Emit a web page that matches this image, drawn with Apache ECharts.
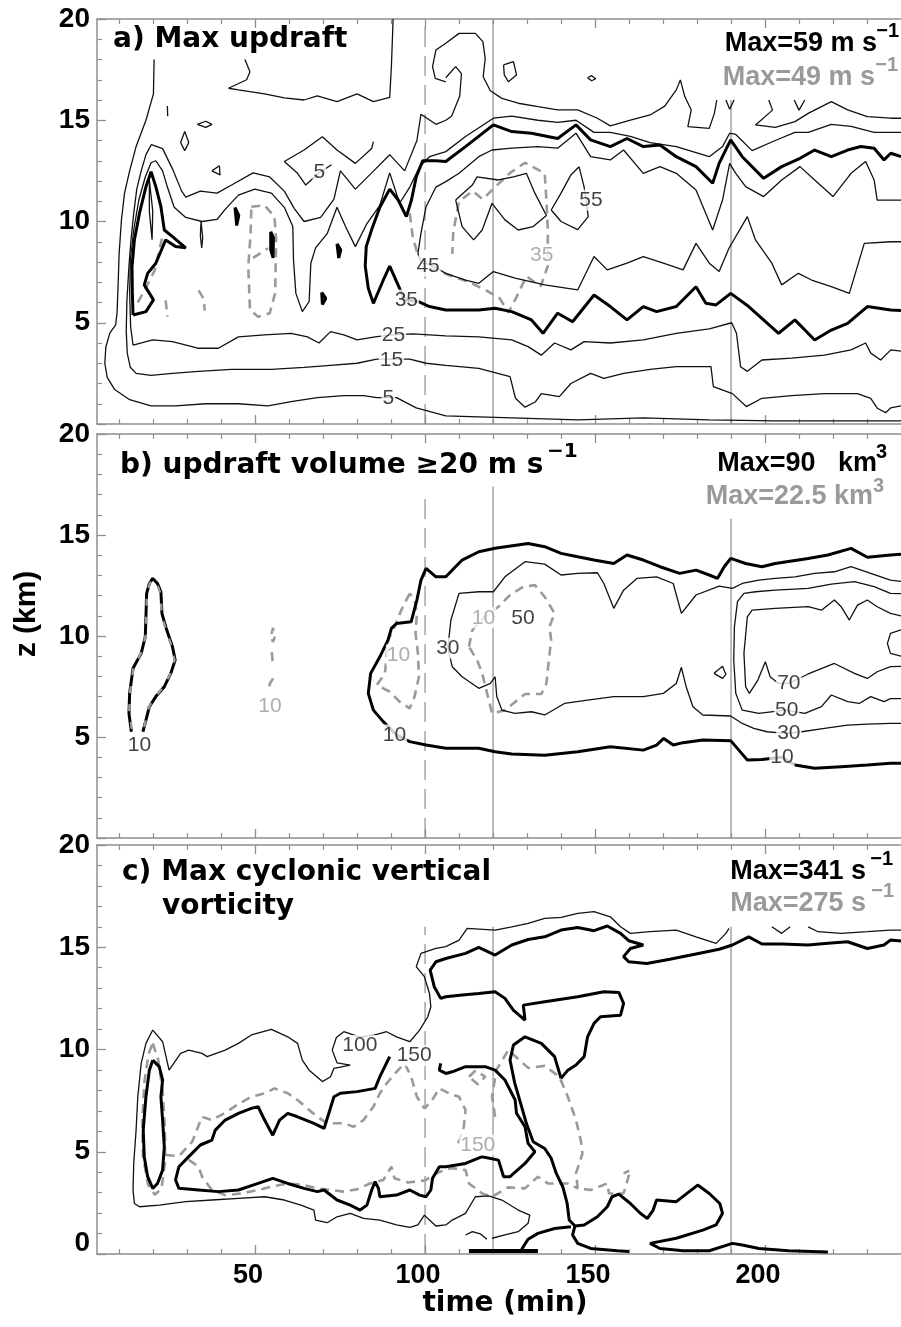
<!DOCTYPE html>
<html><head><meta charset="utf-8">
<script src="https://cdn.jsdelivr.net/npm/echarts@6.0.0/dist/echarts.min.js"></script>
<style>html,body{margin:0;padding:0;background:#fff}#c{width:901px;height:1327px}</style>
</head><body><div id="c"></div>
<script>
// ---------- axis values ----------
const timeMajor = [50, 100, 150, 200];
const timeMinor = [10, 20, 30, 40, 60, 70, 80, 90, 110, 120, 130, 140, 160, 170, 180, 190, 210, 220, 230];
const timeRange = [3.5, 240];
const heightRange = [0, 20];
const refTimes = [100, 120, 190];
const refTopA = [20, 20, 16.0];
const refTopB = [17.1, 17.4, 15.8];
const refTopC = [16, 16, 16];

// ---------- panel a: max updraft contours [time (min), z (km)] ----------
const aW5 = [[20.3,18.0],[20.1,16.3],[17.9,15.0],[15.0,13.7],[13.1,12.5],[11.6,11.4],[10.7,10.1],[10.0,8.4],[9.7,6.8],[9.4,5.5],[9.0,4.9],[7.3,4.5],[6.1,3.8],[5.8,3.0],[6.5,2.3],[8.7,1.7],[13.1,1.2],[19.4,0.9],[26.6,0.9],[35.4,1.0],[45.1,1.0],[53.8,0.9],[60.6,1.1],[68.3,1.3],[76.1,1.4],[81.9,1.4],[85.8,1.3],[91.6,1.3],[97.4,0.8],[106.1,0.4],[125.5,0.3],[144.9,0.2],[164.2,0.3],[183.6,0.2],[203,0.15],[222.4,0.15],[240,0.15]];
const aW15 = [[106.1,17.1],[109,17.65],[110.7,17.3],[110.2,16.2],[107.8,15.2],[106.1,15.0],[103.2,14.8],[98.8,15.3],[97.6,14.0],[94,12.5],[89.6,13.3],[84.3,12.4],[79.5,11.6],[75.1,12.5],[73.2,11.1],[69.3,10.2],[64.4,10.0],[61.5,10.65],[58.6,11.5],[54.3,12.2],[49.4,12.4],[43.1,11.8],[38.8,11.4],[33.9,11.5],[29.6,11.2],[28.4,11.5],[25.7,12.6],[22.8,13.6],[19.5,13.8],[17.9,13.3],[16.5,12.5],[15.2,11.6],[14.3,10.4],[13.5,9.1],[12.9,7.8],[12.3,6.1],[12.1,4.6],[12.4,3.5],[13.3,2.8],[15.0,2.5],[19.4,2.4],[25.7,2.5],[33.4,2.6],[43.1,2.7],[54.8,2.7],[64.4,2.8],[72.2,2.9],[80,3.0],[85.8,3.2],[90.6,3.2],[95.5,3.2],[100.3,3.0],[106.1,2.9],[115.8,2.75],[125,2.34],[126.6,1.27],[129.4,0.83],[132.5,1.1],[134.2,1.5],[139.5,1.35],[142.9,2.0],[148.7,2.5],[152.6,2.25],[158.4,2.5],[166.2,2.7],[173.9,2.83],[184.1,2.83],[184.8,1.85],[190.4,1.5],[194.5,0.86],[199.1,1.27],[207.8,1.4],[217.5,1.5],[227.2,1.5],[231.1,1.27],[233.0,0.78],[235.5,0.56],[237,0.8],[240,0.9]];
const aW25 = [[240,3.6],[237,3.66],[234,3.16],[231.1,3.5],[229.6,4.0],[225.3,3.66],[217.5,3.4],[207.8,3.25],[199.1,3.16],[194.8,2.6],[192.8,2.83],[191.6,4.48],[190.2,5.0],[183.6,4.7],[173.9,4.48],[164.2,4.15],[154.5,4.0],[146.8,4.07],[142.9,3.66],[138.1,4.0],[134.2,3.4],[130.3,3.82],[125.5,4.15],[115.8,4.3],[106.1,4.35],[101.3,4.4],[96.4,4.45],[90.6,4.4],[85.8,4.31],[80,4.15],[76.1,4.4],[72.2,4.56],[68.8,4.0],[65.4,4.3],[60.6,4.48],[52.8,4.4],[45.1,4.3],[39.2,3.74],[33.4,3.74],[25.7,4.07],[19.9,4.15],[14.1,3.9],[13.4,4.8],[13.1,6.45],[13.3,8.1],[14.3,9.58],[15.8,11.06],[17.7,12.2],[19.4,12.9],[20.8,13.0],[22.8,12.5],[24.2,11.7],[26.2,10.7],[29.6,10.2],[34.4,10.0],[38.8,10.1],[41.2,10.6],[45.1,11.3],[49.9,11.6],[54.8,11.4],[58.6,10.7],[61.1,9.75],[61.3,8.1],[62,6.45],[63.9,5.55],[65.9,6.05],[66.4,7.94],[67.8,8.7],[71.2,9.4],[74.1,10.7],[76.6,9.75],[79.5,8.76],[82.9,9.9],[86.7,10.8],[89.6,12.4],[92.5,10.9],[95.5,11.7],[98.4,12.7],[101.3,13.2],[106.1,13.45],[111.9,14.2],[120.1,15.1],[125.5,15.2],[133.2,15.0],[139,14.9],[144.4,15.0],[149.7,14.4],[154.5,14.4],[160.4,14.2],[166.2,13.9],[173.9,13.7],[183.6,13.2],[187.5,13.7],[189.6,14.36],[191.4,14.3],[196.2,13.5],[203,14.0],[208.8,14.4],[212.7,14.4],[219.5,14.8],[225.3,14.7],[232.1,14.4],[240,14.4]];
const aW35 = [[240,5.6],[237,5.63],[230.1,5.8],[224.3,4.97],[219.5,4.64],[214.6,4.15],[208.8,5.14],[204,4.48],[195.2,5.8],[189.9,6.45],[185.6,5.88],[182.6,5.96],[179.7,6.78],[173.9,5.8],[168.1,5.55],[164.2,5.8],[159.4,5.14],[154.5,5.8],[149.7,6.37],[143.4,5.05],[139,5.47],[134.7,4.48],[131.3,5.14],[125.5,5.55],[120.6,5.72],[115.8,5.63],[106.1,5.63],[101.3,5.8],[97.9,6.05],[94,6.13],[89.6,7.8],[87.7,7.1],[84.8,5.96],[83.3,6.7],[82.4,7.8],[82.7,8.76],[84.3,9.6],[86.7,10.7],[89.6,11.6],[92.1,11.06],[94.5,10.24],[96,11.06],[97.4,12.2],[99.3,13.0],[103.2,13.0],[106.1,12.96],[111.9,13.7],[120.1,14.77],[125.5,14.44],[131.3,14.36],[139,14.1],[144.4,14.77],[148.7,14.03],[154.5,13.7],[159.4,14.1],[164.2,13.7],[169.1,13.78],[173.9,13.2],[179.7,12.71],[184.6,11.89],[186.5,12.87],[189.9,14.03],[193.3,13.2],[199.6,12.13],[204.9,12.71],[210.3,13.12],[214.6,13.53],[219.5,13.2],[224.3,13.53],[228.2,13.7],[232.1,13.62],[235,13.04],[237,13.37],[240,13.2]];
const aW45 = [[240,11.06],[233,11.06],[232.1,12.05],[229.6,12.96],[225.3,12.38],[220,11.23],[214.6,12.05],[210.3,12.71],[204.9,12.05],[199.6,11.23],[194.3,11.72],[191.4,12.38],[189.6,12.87],[187.5,11.06],[184.6,9.58],[179.7,11.56],[173.9,12.38],[169.1,12.71],[164.2,12.38],[158.4,13.53],[154.5,13.04],[148.7,13.2],[144.4,14.36],[139,13.62],[133.2,13.7],[125.5,13.62],[119.7,13.53],[115.8,13.2],[110,12.38],[106.1,11.97],[103.2,11.7],[100.3,10.73],[98.8,9.42],[97.9,8.43],[98.8,7.94],[101.3,7.9],[106.1,7.44],[111.9,7.11],[115.8,6.95],[120.1,7.53],[126.5,7.2],[135.2,6.87],[144.9,6.62],[149.7,8.27],[153.6,7.61],[159.4,7.94],[164.2,8.27],[170.1,7.94],[175.9,7.61],[179.7,8.92],[183.6,7.94],[186.5,7.53],[189.4,8.68],[194.8,10.24],[197.2,9.09],[202,7.94],[204.9,6.87],[209.8,7.44],[213.7,7.11],[219.5,6.78],[224.8,6.45],[229.2,8.92],[237,9.0],[240,9.0]];
const aW55a = [[137.1,10.57],[140,11.4],[142.9,12.3],[145.3,12.7],[146.8,11.7],[148,10.24],[144.9,9.6],[140,10.0],[137.1,10.57]];
const aW55b = [[109,11.06],[113.9,11.8],[115.3,12.2],[121.6,12.05],[126,12.2],[129.8,12.38],[132.3,11.4],[135.7,10.3],[131.8,9.75],[127.4,9.58],[123.5,10.08],[119.7,10.9],[116.8,9.58],[114.3,9.09],[110.9,9.75],[109,11.06]];
const aWtop1 = [[106.1,16.9],[103,17.07],[102.2,17.65],[103.2,18.47],[106.1,18.8],[110,19.29],[114.8,19.29],[117,18.88],[117.7,18.06],[117.1,17.15],[119.2,16.46],[122.6,16.08],[127.4,15.84],[133.2,15.67],[139,15.51],[144.9,15.51],[150.7,15.1],[154.5,14.72],[160.4,15.01],[166.2,15.26],[170.5,15.7],[173.9,16.5],[175.1,16.99],[176.4,16.17],[178.3,15.51],[177.3,14.69],[183.6,14.6],[185.1,15.34],[185.8,16.0]];
const aWtop2 = [[201.1,16.0],[202.2,15.5],[197.2,14.77],[203,14.65],[208.8,14.93],[212.7,15.34],[219.5,15.92],[224.3,15.51],[230.1,15.18],[237,15.1],[240,15.1]];
const aWvee1 = [[188.5,16.0],[189.6,15.54],[190.9,16.0]];
const aWvee2 = [[208.6,16],[210,15.5],[211.7,16]];
const aWloop1 = [[123.1,17.73],[126,17.9],[126.9,17.24],[124.5,16.9],[123.3,17.24],[123.1,17.73]];
const aWloop2 = [[147.8,17.1],[149,17.2],[150.2,17.05],[149,16.95],[147.8,17.1]];
const aWtopRegion = [[47,18.0],[48.5,17.4],[47.5,17.0],[42.2,16.58],[45.1,16.5],[52.8,16.3],[58.6,16.1],[64.4,16.0],[68.3,16.2],[74.1,15.92],[80,16.3],[84.8,15.92],[89.6,16.13],[90.1,17.65],[90.6,20]];
const aWmid5 = [[84.8,13.94],[84.3,13.6],[79.5,12.87],[74.1,13.53],[69.8,14.19],[64.4,13.53],[58.6,12.96],[62.5,12.38],[64.9,11.8],[68.8,12.4],[72.5,12.8]];
const aWisle1 = [[29.3,14.44],[30.5,13.9],[29.3,13.5],[28.1,13.9],[29.3,14.44]];
const aWisle2 = [[33,14.8],[35.5,14.95],[37.3,14.8],[35.5,14.65],[33,14.8]];
const aWisle3 = [[37.3,12.5],[39.7,12.3],[39.5,12.75],[37.3,12.5]];
const aWisle4 = [[24.2,15.7],[24.3,15.2]];
const aWisle5 = [[18.9,12.05],[19.9,10.5],[19.7,9.1],[18.9,10.5],[18.9,12.05]];
const aWisle6 = [[34.1,10.0],[34.6,9.2],[34.3,8.7],[33.9,9.3],[34.1,10.0]];
const aTcell = [[14.1,5.38],[17.9,5.55],[20.1,6.13],[17.4,6.87],[18.4,7.44],[20.8,7.94],[23.7,9.09],[26.6,8.76],[29.6,8.7],[25.7,9.25],[23.3,9.58],[22.3,10.73],[20.8,11.72],[19.4,12.46],[17.9,11.72],[16,10.41],[14.5,9.09],[13.8,7.77],[13.9,6.45],[14.1,5.38]];
const aTdot1 = [[44.1,10.7],[45.2,10.3],[44.6,9.8],[44.1,10.7]];
const aTdot2 = [[54.6,9.5],[55.4,9.2],[55.3,8.2],[54.6,8.6],[54.6,9.5]];
const aTdot3 = [[74.1,8.9],[75.2,8.6],[74.6,8.2],[74.1,8.9]];
const aTdot4 = [[69.6,6.5],[70.8,6.2],[69.8,5.9],[69.6,6.5]];
const aG1 = [[48.9,10.73],[52.8,10.8],[55.7,10.24],[56.2,9.09],[55.9,6.45],[54.3,5.47],[50.9,5.3],[48.5,5.63],[48,7.77],[48.7,9.42],[48.9,10.73]];
const aG2 = [[49.4,8.2],[53.8,8.68]];
const aG3 = [[23.7,6.1],[24.2,5.3]];
const aG4 = [[33.4,6.6],[34.8,6.2],[35.2,5.6]];
const aG5 = [[15.5,6.0],[17.5,6.6],[20.5,7.6],[22.8,9.3]];
const aG6 = [[95.5,10.4],[96.4,9.2],[98,8.3],[103,7.6],[108,7.3],[113,7.0],[118,6.6],[122,6.2],[124.5,5.5],[127,6.3],[129.8,7.3],[134,6.8],[136.1,7.8],[136.1,9.58],[135.7,11.06],[135.2,12.38],[129.4,12.9],[125,12.4],[120.6,11.7],[117,11.1],[114,11.5],[110,11.0],[108.3,9.5],[108,8.4]];
const aLabels = [[89.2,1.28,'5'],[90.1,3.16,'15'],[90.7,4.4,'25'],[94.5,6.12,'35'],[100.9,7.8,'45'],[148.8,11.06,'55'],[68.9,12.44,'5']];
const aGreyLabels = [[134.3,8.35,'35']];

// ---------- panel b: updraft volume contours ----------
const bW10left = [[13.6,5.26],[12.9,6.17],[13.1,7.16],[14.1,8.4],[16.5,9.14],[17.7,9.96],[17.9,10.95],[18.1,12.11],[18.9,12.6],[19.9,12.85],[21.3,12.6],[22.3,12.19],[22.6,11.12],[23.7,10.46],[25.7,9.47],[26.5,8.81],[25.2,8.15],[23.3,7.49],[20.8,7.0],[18.9,6.5],[17.9,5.84],[17,5.26]];
const bG10left = [[13.7,5.4],[13.0,6.3],[13.2,7.2],[14.2,8.4],[16.6,9.2],[17.8,10.0],[18.0,11.0],[18.2,12.1],[19.0,12.6],[19.9,12.8],[21.3,12.5],[22.2,12.1],[22.5,11.1],[23.6,10.4],[25.6,9.4],[26.3,8.8],[25.0,8.1],[23.1,7.5],[20.7,7.0],[18.8,6.5],[17.8,5.8],[17.1,5.3]];
const bGdot1 = [[54.8,10.1],[55.3,10.4],[55.7,9.9],[55.2,9.7],[54.8,10.1]];
const bGdot2 = [[54.9,9.2],[55.3,8.5]];
const bGdot3 = [[55.3,7.9],[54.2,7.6],[55.3,7.3]];
const bW10 = [[240,14.05],[236.9,14.01],[230.1,13.9],[225.3,14.34],[218.5,14.01],[212.7,13.84],[203,13.59],[199.1,13.43],[194.3,13.59],[189.9,13.84],[188,13.43],[186,12.85],[183.6,13.02],[179.7,13.26],[174.9,13.1],[169.1,13.43],[164.2,13.76],[159.4,14.01],[155.5,13.59],[149.7,13.76],[144.9,13.92],[140,14.09],[135.2,14.42],[130.3,14.58],[120.6,14.34],[115.8,14.17],[110.9,13.76],[106.1,12.93],[103.2,12.93],[100.3,13.35],[98.8,12.77],[97.6,11.78],[95.9,10.7],[91.6,10.62],[90.1,10.38],[89.1,9.8],[86.7,8.97],[84,8.15],[83.3,7.16],[84.8,6.33],[87.7,5.76],[91.6,5.1],[95.5,4.77],[100.3,4.6],[106.1,4.44],[115.8,4.44],[120.6,4.27],[125.5,4.16],[135.2,4.1],[144.9,4.27],[154.5,4.52],[164.2,4.35],[168.1,4.6],[170.2,4.93],[173,4.6],[175.9,4.72],[181.7,4.85],[189.9,4.82],[192.3,4.35],[194.8,3.86],[199.1,3.89],[205,4.0],[208.8,3.61],[214.6,3.45],[222.4,3.53],[230.1,3.61],[236.9,3.7],[240,3.7]];
const bW30 = [[240,12.7],[236.9,12.77],[231.1,13.1],[225.3,13.43],[220.4,13.18],[214.6,13.1],[208.8,12.93],[203,12.85],[198.2,12.77],[193.3,12.6],[190.4,12.36],[186.5,12.47],[179.7,12.03],[175.4,11.12],[173,12.6],[168.1,12.93],[162.3,12.85],[158.4,12.27],[155.5,11.37],[152.6,12.6],[150.7,13.13],[144.9,13.1],[140,13.02],[135.2,13.56],[129.4,13.68],[123.5,12.93],[120.1,12.19],[115.8,12.19],[110,12.11],[107.6,10.79],[106.7,9.4],[108,8.48],[110.9,7.98],[115.8,7.41],[119.2,7.65],[120.6,7.98],[121.1,7.0],[122.6,6.33],[126.4,6.17],[131.3,6.25],[135.2,6.09],[141,6.66],[147.8,6.83],[155.5,7.0],[164.2,7.0],[170.1,7.16],[173.9,7.65],[175.4,8.45],[176.8,7.49],[178.8,6.5],[181.7,6.09],[189.9,6.04],[193.3,5.67],[196.7,5.43],[200.6,5.26],[205.9,5.18],[210.8,5.26],[217.5,5.43],[224.3,5.59],[230.1,5.64],[236.9,5.67],[240,5.67]];
const bW50 = [[240,12.1],[236.9,12.11],[232.1,12.44],[226.3,12.69],[219.5,12.57],[212.7,12.36],[203,12.27],[197.2,12.19],[193.8,12.11],[191.9,11.7],[191,10.46],[190.8,8.81],[191.4,7.16],[193.3,6.33],[198.2,6.17],[205.9,6.33],[211.7,6.17],[216.6,6.5],[219.5,7.08],[224.3,6.75],[227.7,6.66],[231.1,7.0],[235,6.75],[236.9,6.9],[240,6.9]];
const bW70 = [[240,11.0],[236.9,11.12],[233,11.45],[230.1,11.78],[227.2,11.53],[224.8,10.79],[222.4,11.45],[220.4,11.78],[216.6,11.28],[212.7,11.45],[203,11.37],[196.2,11.28],[194.8,10.95],[193.8,9.14],[194.3,7.49],[195.4,7.16],[197.9,7.82],[200.1,8.73],[201.5,7.98],[204,7.65],[206.9,7.65],[212.7,8.12],[220.4,8.64],[226.3,8.15],[230.1,7.9],[233,8.23],[236.9,8.48],[240,8.5]];
const bW90 = [[240,10.3],[236.9,10.13],[236,9.63],[236.9,9.14],[240,9.0]];
const bWdiamond = [[185,8.15],[187.5,8.5],[188.5,8.1],[187.5,7.9],[185,8.15]];
const bG1 = [[95.5,12.11],[93,11.28],[90.6,10.29],[89.1,9.8],[88.2,8.15],[85.8,7.57],[89.6,7.24],[92.5,6.75],[95.5,6.42],[96.9,7.0],[98.2,7.98],[97.9,9.14],[97.2,10.13],[97.6,11.12],[96.9,11.78],[95.5,12.11]];
const bG2 = [[112.9,9.47],[113.9,10.29],[117.2,10.9],[121.6,11.45],[125,12.03],[128.9,12.44],[132.3,12.52],[135.2,11.94],[138.1,11.12],[136.6,10.46],[137.1,9.8],[136.3,8.64],[135.7,7.65],[134.2,7.13],[129.4,7.13],[123.5,6.33],[119.7,6.17],[116.8,8.15],[115.3,8.81],[112.9,9.47]];
const bLabels = [[16,4.6,'10'],[91,5.1,'10'],[106.7,9.4,'30'],[128.8,10.9,'50'],[207,7.67,'70'],[206.4,6.34,'50'],[207,5.2,'30'],[205,4.0,'10']];
const bGreyLabels = [[54.4,6.53,'10'],[92.2,9.06,'10'],[117.2,10.9,'10']];

// ---------- panel c: max cyclonic vertical vorticity contours ----------
const cW100 = [[189.4,15.92],[188.5,15.68],[185.6,15.19],[179.7,15.51],[173.9,15.84],[166.2,15.76],[160.4,15.68],[157.5,16.0],[154.5,16.49],[149.7,16.74],[144.9,16.66],[140,16.46],[135.2,16.41],[130.3,16.17],[125.5,16.0],[120.6,15.84],[112.4,15.92],[111.9,15.84],[110,15.35],[106.1,15.03],[103.2,14.94],[98.8,14.7],[97.4,14.05],[99.8,13.56],[101.3,12.74],[101.7,12.09],[100.8,11.6],[98.4,10.95],[95.5,10.38],[91.6,10.62],[88.7,10.87],[85,10.7],[80.9,10.6],[76.1,10.87],[73.9,10.59],[72.7,9.97],[74.1,9.35],[78,9.24],[73.2,9.08],[72.2,8.67],[69.8,8.43],[65.9,8.99],[63.9,9.48],[62.5,10.3],[59.6,10.62],[54.8,10.98],[48.9,10.71],[45.1,10.3],[41.2,9.97],[35.9,9.65],[34.4,9.81],[30.5,9.97],[28.1,9.81],[24.7,8.99],[22.8,10.38],[19.9,10.95],[17.9,10.3],[16.5,9.32],[15.5,7.69],[15.0,6.06],[14.3,4.43],[14.1,3.13],[14.5,2.47],[16,2.31],[21.8,2.39],[29.6,2.56],[37.3,2.64],[45.1,2.72],[52.8,2.8],[58.6,2.64],[63.5,2.39],[67.3,2.15],[67.8,1.66],[71.2,1.53],[74.1,1.82],[78,1.99],[81.9,1.74],[86.7,1.66],[91.6,1.42],[95.5,1.3],[97.9,1.42],[99.8,1.9],[101.3,1.66],[103.2,1.37],[106.1,1.42],[108,1.66],[111.9,1.99],[114.8,2.8],[118.7,2.84],[122.6,2.64],[127.4,2.15],[130.8,1.9],[130.3,1.5],[127.4,1.09],[123.5,0.93],[119.7,0.77]];
const cW100top = [[212.7,16.0],[215.6,15.76],[222.4,15.68],[230.1,15.76],[236.9,15.84],[240,15.84]];
const cW100arc = [[202,16.0],[204.9,15.68],[207.4,16.0]];
const cW100low = [[111.9,0.93],[113.9,1.09],[116.3,0.98],[118.2,0.72]];
const cTcell = [[19.9,9.48],[18.9,8.99],[17.9,7.69],[17.1,6.06],[17.4,4.76],[18.4,3.78],[19.9,3.21],[21.3,3.45],[22.8,4.1],[23.3,5.25],[22.8,6.55],[22.3,7.69],[22.8,8.51],[21.8,9.16],[19.9,9.48]];
const cT150 = [[89.6,9.65],[86.7,8.67],[85.3,8.1],[80,7.94],[75.1,7.86],[73.2,7.69],[70.3,6.14],[67.3,6.39],[62.5,6.71],[59.6,6.88],[57.2,6.55],[55.2,5.81],[52.8,6.55],[50.9,7.2],[48.9,7.12],[45.1,6.88],[41.2,6.55],[38.3,6.06],[37.3,5.57],[33.9,5.33],[30.5,4.76],[27.6,4.27],[26.6,3.62],[27.6,3.21],[33.4,3.13],[39.2,3.05],[45.1,3.13],[50.9,3.45],[55.2,3.7],[59.6,3.45],[64.4,3.21],[68.3,3.05],[70.3,3.13],[74.1,2.64],[78,2.39],[80.9,2.15],[82.9,2.39],[84.3,3.13],[85.3,3.54],[86.3,3.21],[86.7,2.8],[91.6,2.88],[95.5,3.13],[98.4,2.88],[100.3,2.8],[101.7,3.13],[102.2,3.7],[104.2,4.27],[106.1,4.27],[111.9,4.43],[116.8,4.76],[121.6,4.59],[123.1,3.78],[125,3.78],[129.4,4.43],[132.3,5.0],[130.3,5.41],[129.4,6.22],[126.9,6.88],[126.5,7.53],[123.5,8.51],[120.6,8.99],[117.7,9.16],[111.9,9.16],[108,8.91],[106.1,8.83],[104.2,8.99],[104.6,9.32]];
const cTupper = [[140,8.59],[142,8.99],[144.4,9.24],[146.8,9.65],[147.8,10.62],[149.7,11.28],[151.6,11.6],[157.5,11.68],[158.4,12.26],[157,12.79],[152.6,12.82],[144.9,12.58],[135.2,12.34],[128.9,12.17],[129.4,11.44],[125.96,11.93],[123.5,12.5],[120.6,12.82],[115.8,12.74],[110.9,12.66],[106.1,12.58],[104.6,12.5],[102.7,13.07],[101.5,13.88],[103.2,14.29],[106.1,14.45],[111.9,14.7],[115.8,14.99],[120.6,14.62],[125.5,15.11],[130.3,15.38],[135.2,15.51],[140,15.84],[144.9,15.97],[149.7,15.81],[153.6,16.04],[157.5,15.68],[159.9,15.32],[164.2,15.11],[160.4,14.94],[158.4,14.54],[159.9,14.29],[165.2,14.21],[172,14.41],[179.7,14.67],[186.5,14.9],[190.4,15.11],[195.2,15.51],[199.1,15.16],[204.9,15.16],[212.7,15.11],[218.5,15.19],[224.3,15.27],[230.1,14.94],[235,15.11],[236.9,15.35],[240,15.3]];
const cTlower = [[140,8.59],[138.1,9.65],[134.2,10.3],[129.4,10.62],[126,10.22],[125,9.48],[126.4,8.34],[128.4,7.2],[129.8,6.39],[131.8,5.49],[135.2,5.16],[137.1,4.68],[138.6,3.94],[140.5,3.29],[141.8,2.47],[142.4,1.66],[144.1,1.37],[146.8,1.42],[150.7,1.82],[153.6,2.31],[155,2.8],[157,2.93],[160.4,2.47],[163.3,1.99],[165.4,1.74],[167.1,2.15],[168.1,2.64],[173.9,2.56],[180.2,3.37],[183.6,2.96],[186.7,2.47],[187.5,1.99],[185.6,1.42],[181.7,1.17],[173.9,0.77],[166.2,0.52],[169.1,0.27],[175.9,0.16],[183.6,0.16],[190.4,0.52],[193.3,0.44],[198.2,0.27],[206.9,0.16],[218.5,0.1]];
const cTbot1 = [[144.1,1.37],[143.4,0.93],[144.9,0.52],[148.7,0.27],[156.5,0.16],[160,0.12]];
const cTbot2 = [[142.9,1.33],[138.1,1.25],[133.2,1.01],[130.3,0.72],[128.9,0.36],[128,0.1]];
const cTbot3 = [[112.9,0.15],[133.2,0.15]];
const cG1 = [[19.9,10.3],[21.5,9.5],[22.8,8.0],[23.5,6.0],[23.5,4.5],[22.5,3.2],[20.5,2.9],[18.5,3.4],[17,4.8],[16.8,6.5],[17.5,8.5],[18.7,9.8],[19.9,10.3]];
const cG2 = [[23.7,4.84],[27.6,4.79],[31.5,5.49],[34.4,6.71],[37.3,6.55],[41.2,6.91],[45.1,7.33],[48.9,7.69],[52.8,7.86],[55.7,8.1],[59.6,7.86],[62.5,7.53],[65.4,7.12],[68.3,6.71],[71.2,6.39],[76.1,6.39],[79,6.22],[81.9,6.55],[84.8,7.2],[86.7,7.86],[88.7,8.34],[91.6,8.91],[94,9.32],[95.9,8.67],[97.6,7.69],[99.8,7.12],[101.8,7.45],[104.2,8.1],[107.1,7.85],[110,7.69],[111.9,7.04],[111.4,6.22],[110,5.49],[108,5.33]];
const cG3 = [[120.6,6.71],[119.7,7.69],[121,9.0],[124.5,9.97],[127,9.6],[130.3,9.1],[135.2,9.2],[139.5,8.67],[142,7.69],[144.4,6.55],[145.8,5.57],[146.3,4.92],[144.4,3.94],[144.9,3.21],[148.7,3.13],[153.6,3.45],[154.1,2.96],[158.4,2.96],[160.4,4.1],[158.4,3.94]];
const cG4 = [[30.5,4.6],[33.4,4.27],[34.4,3.78],[37.3,3.13],[41.2,2.88],[46,2.96],[50.9,3.13],[54.8,3.29],[59.6,3.45],[64.4,3.37],[68.3,3.21],[72.2,3.13],[76.1,3.05],[80,3.16],[83.8,3.45],[87.7,3.62],[90.1,4.27],[91,3.7],[95,3.5],[100,3.6],[104,4.0],[108,4.2],[111.9,4.1],[112.9,3.45],[116.8,2.96],[119.7,2.8],[124.5,3.26],[129.4,3.21],[133.2,3.78],[136.1,3.45],[142,3.45],[144.9,3.21]];
const cG5 = [[112.9,8.67],[114.8,8.96],[117.7,8.67],[115.5,8.3],[112.9,8.67]];
const cLabels = [[80.8,10.2,'100'],[96.8,9.7,'150']];
const cGreyLabels = [[115.5,5.33,'150']];

// ---------- drawing ----------
const FONT = "'Liberation Sans', Arial, sans-serif";
const DJV = "'DejaVu Sans', sans-serif";
const AX = '#8f8f8f';
const GREY = '#9a9a9a';
const STY = {
  thin: {color: '#111', width: 1.3, type: 'solid'},
  thick: {color: '#000', width: 3, type: 'solid'},
  bold: {color: '#000', width: 4, type: 'solid'},
  grey: {color: GREY, width: 2.6, type: [9, 6]}
};
const contours = [
  [0,aG1,'grey'],[0,aG2,'grey'],[0,aG3,'grey'],[0,aG4,'grey'],[0,aG5,'grey'],[0,aG6,'grey'],
  [0,aW5,'thin'],[0,aW15,'thin'],[0,aW25,'thin'],[0,aW35,'thick'],[0,aW45,'thin'],[0,aW55a,'thin'],[0,aW55b,'thin'],
  [0,aWtop1,'thin'],[0,aWtop2,'thin'],[0,aWvee1,'thin'],[0,aWvee2,'thin'],[0,aWloop1,'thin'],[0,aWloop2,'thin'],
  [0,aWtopRegion,'thin'],[0,aWmid5,'thin'],[0,aWisle1,'thin'],[0,aWisle2,'thin'],[0,aWisle3,'thin'],[0,aWisle4,'thin'],
  [0,aWisle5,'thin'],[0,aWisle6,'thin'],[0,aTcell,'thick'],[0,aTdot1,'thick'],[0,aTdot2,'thick'],[0,aTdot3,'thick'],[0,aTdot4,'thick'],
  [1,bGdot1,'grey'],[1,bGdot2,'grey'],[1,bGdot3,'grey'],[1,bG1,'grey'],[1,bG2,'grey'],
  [1,bW10left,'thick'],[1,bW10,'thick'],[1,bW30,'thin'],[1,bW50,'thin'],[1,bW70,'thin'],[1,bW90,'thin'],[1,bWdiamond,'thin'],
  [2,cG1,'grey'],[2,cG2,'grey'],[2,cG3,'grey'],[2,cG4,'grey'],[2,cG5,'grey'],
  [2,cW100,'thin'],[2,cW100top,'thin'],[2,cW100arc,'thin'],[2,cW100low,'thin'],
  [2,cTcell,'thick'],[2,cT150,'thick'],[2,cTupper,'thick'],[2,cTlower,'thick'],[2,cTbot1,'thick'],[2,cTbot2,'thick'],[2,cTbot3,'bold']
];
// grey dashes drawn over the black outline of the early cell in panel b
const overlays = [[1,bG10left,'grey']];
const refTops = [refTopA, refTopB, refTopC];
const labelSets = [[0,aLabels,'#111'],[0,aGreyLabels,GREY],[1,bLabels,'#111'],[1,bGreyLabels,GREY],[2,cLabels,'#111'],[2,cGreyLabels,GREY]];

const gridBoxes = [{top: 19, height: 405}, {top: 434, height: 404}, {top: 845, height: 409}];
const grid = gridBoxes.map(b => ({left: 97, width: 813.6, top: b.top, height: b.height, containLabel: false}));

function xAxesFor(g, showLabels) {
  const base = {gridIndex: g, type: 'value', min: timeRange[0], max: timeRange[1], splitLine: {show: false}};
  const line = {show: true, lineStyle: {color: AX, width: 1.5}};
  const major = {show: true, inside: true, length: 9, customValues: timeMajor, lineStyle: {color: AX, width: 1.3}};
  const minor = {show: true, inside: true, length: 5, customValues: timeMinor, lineStyle: {color: AX, width: 1.2}};
  return [
    Object.assign({}, base, {position: 'bottom', axisLine: line, axisTick: major,
      axisLabel: {show: showLabels, customValues: timeMajor, margin: 8, fontSize: 27, fontWeight: 'bold', fontFamily: FONT, color: '#000', padding: [0, 14, 0, 0]}}),
    Object.assign({}, base, {position: 'bottom', axisLine: {show: false}, axisTick: minor, axisLabel: {show: false}}),
    Object.assign({}, base, {position: 'top', axisLine: line, axisTick: major, axisLabel: {show: false}}),
    Object.assign({}, base, {position: 'top', axisLine: {show: false}, axisTick: minor, axisLabel: {show: false}})
  ];
}
const xAxis = [].concat(xAxesFor(0, false), xAxesFor(1, false), xAxesFor(2, true));
const yAxis = [0, 1, 2].map(g => ({
  gridIndex: g, type: 'value', min: heightRange[0], max: heightRange[1], interval: 5, position: 'left',
  axisLine: {show: true, lineStyle: {color: AX, width: 1.5}},
  axisTick: {show: true, inside: true, length: 9, lineStyle: {color: AX, width: 1.3}},
  minorTick: {show: true, splitNumber: 5, length: 5, lineStyle: {color: AX, width: 1.2}},
  splitLine: {show: false}, minorSplitLine: {show: false},
  axisLabel: {margin: 7, fontSize: 28, fontWeight: 'bold', fontFamily: FONT, color: '#000',
    formatter: v => v === 0 ? (g === 2 ? '{z|0}' : '') : String(v),
    rich: {z: {fontSize: 28, fontWeight: 'bold', fontFamily: FONT, color: '#000', padding: [0, 0, 22, 0]}}}
}));

const series = [];
refTops.forEach((tops, g) => {
  refTimes.forEach((t, i) => {
    series.push({type: 'line', xAxisIndex: g * 4, yAxisIndex: g, data: [[t, 0], [t, tops[i]]],
      symbol: 'none', silent: true, z: 1,
      lineStyle: {color: '#8c8c8c', width: 1.2, type: i === 0 ? [20, 9] : 'solid'}});
  });
});
contours.forEach(c => {
  series.push({type: 'line', xAxisIndex: c[0] * 4, yAxisIndex: c[0], data: c[1], symbol: 'none', showSymbol: false,
    silent: true, z: c[2] === 'grey' ? 2 : 3, lineStyle: STY[c[2]]});
});
overlays.forEach(c => {
  series.push({type: 'line', xAxisIndex: c[0] * 4, yAxisIndex: c[0], data: c[1], symbol: 'none', showSymbol: false,
    silent: true, z: 4, lineStyle: {color: GREY, width: 2.4, type: [7, 11]}});
});
labelSets.forEach(s => {
  series.push({type: 'scatter', xAxisIndex: s[0] * 4, yAxisIndex: s[0], symbolSize: 1, silent: true, z: 10,
    itemStyle: {color: 'rgba(0,0,0,0)'},
    data: s[1].map(l => ({name: l[2], value: [l[0], l[1]]})),
    label: {show: true, position: 'inside', formatter: '{b}', fontSize: 21, fontFamily: FONT, color: s[2],
      backgroundColor: '#fff', padding: [0, 1, 0, 1]}});
});

function txt(x, y, text, font, fill, align, extra) {
  return Object.assign({type: 'text', x: x, y: y, z: 100, silent: true,
    style: {text: text, font: font, fill: fill, align: align, verticalAlign: 'middle'}}, extra || {});
}
const BIG = "bold 28px " + DJV;
const LEG = "bold 27px " + FONT;
const SUP = "bold 20px " + FONT;
const graphic = {elements: [
  txt(113, 40, 'a) Max updraft', BIG, '#000', 'left'),
  txt(120, 466, 'b) updraft volume \u226520 m s', BIG, '#000', 'left'),
  txt(547, 452, '\u22121', "bold 20px " + DJV, '#000', 'left'),
  txt(122, 873, 'c) Max cyclonic vertical', BIG, '#000', 'left'),
  txt(162, 907, 'vorticity', BIG, '#000', 'left'),
  txt(877, 44, 'Max=59 m s', LEG, '#000', 'right'),
  txt(899, 31, '\u22121', SUP, '#000', 'right'),
  txt(875, 78, 'Max=49 m s', LEG, GREY, 'right'),
  txt(898, 65, '\u22121', SUP, GREY, 'right'),
  txt(877, 464, 'Max=90   km', LEG, '#000', 'right'),
  txt(887, 452, '3', SUP, '#000', 'right'),
  txt(873, 497, 'Max=22.5 km', LEG, GREY, 'right'),
  txt(884, 486, '3', SUP, GREY, 'right'),
  txt(866, 872, 'Max=341 s', LEG, '#000', 'right'),
  txt(893, 859, '\u22121', SUP, '#000', 'right'),
  txt(866, 904, 'Max=275 s', LEG, GREY, 'right'),
  txt(894, 891, '\u22121', SUP, GREY, 'right'),
  txt(27, 614, 'z (km)', "bold 30px " + FONT, '#000', 'center', {rotation: Math.PI / 2}),
  txt(505, 1304, 'time (min)', BIG, '#000', 'center')
]};

const chart = echarts.init(document.getElementById('c'), null, {renderer: 'canvas', width: 901, height: 1327});
chart.setOption({backgroundColor: '#fff', animation: false, grid, xAxis, yAxis, series, graphic});
</script></body></html>
